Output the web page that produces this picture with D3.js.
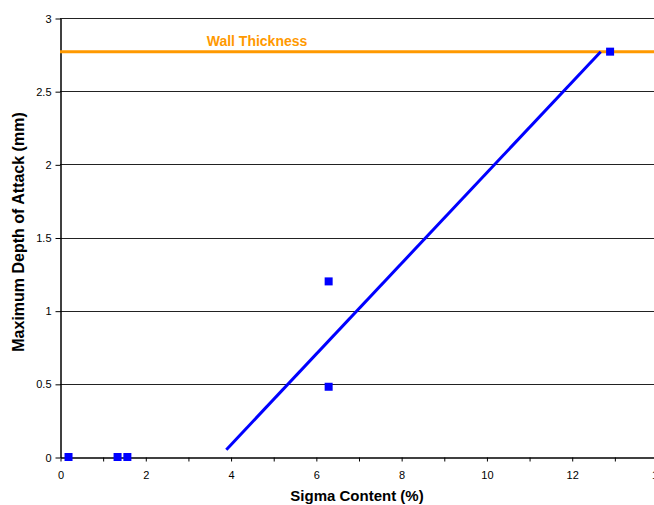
<!DOCTYPE html>
<html>
<head>
<meta charset="utf-8">
<script src="https://cdn.jsdelivr.net/npm/d3@7"></script>
<style>
  body { margin: 0; background: #fff; }
  svg { display: block; font-family: Arial, "Liberation Sans", sans-serif; }
</style>
</head>
<body>
<div id="viz"></div>
<script>
// data
var sigma = [0.2, 1.35, 1.58, 6.3, 6.3, 12.9]
var depth = [0, 0, 0, 1.2, 0.48, 2.77]
var trendX = [3.9, 12.68]
var trendY = [0.05, 2.77]
var wallThickness = 2.77
var xTicks = [0, 1, 2, 3, 4, 5, 6, 7, 8, 9, 10, 11, 12, 13, 14]
var yTicks = [0, 0.5, 1, 1.5, 2, 2.5, 3]

var width = 654, height = 505
var margin = { top: 18, left: 60, bottom: 48 }

var svg = d3.select("#viz")
  .append("svg")
  .attr("width", width)
  .attr("height", height)

// x axis runs past the right edge (14 is cut off)
var x = d3.scaleLinear().domain([0, 14]).range([margin.left, 657])
var y = d3.scaleLinear().domain([0, 3]).range([height - margin.bottom, margin.top])

// gridlines
svg.append("g")
  .selectAll("line")
  .data(yTicks.filter(d => d > 0))
  .enter().append("line")
  .attr("x1", margin.left)
  .attr("x2", width)
  .attr("y1", d => Math.round(y(d)) + 0.5)
  .attr("y2", d => Math.round(y(d)) + 0.5)
  .style("stroke", "#222")

// y axis
var yAxis = svg.append("g")
  .attr("transform", "translate(" + (margin.left + 0.5) + ",0.5)")
  .call(d3.axisLeft(y).tickValues(yTicks).tickSize(5).tickSizeOuter(0).tickFormat(d3.format("")))
yAxis.select(".domain").attr("stroke", "#000").attr("stroke-width", 1.5)
yAxis.selectAll("text").style("font-size", "11px").attr("fill", "#000").attr("dx", "-1px")

// x axis
var xAxis = svg.append("g")
  .attr("transform", "translate(0.5," + (Math.round(y(0)) + 0.5) + ")")
  .call(d3.axisBottom(x).tickValues(xTicks).tickSize(4).tickSizeOuter(0)
    .tickFormat(d => d % 2 == 0 ? d : ""))
xAxis.select(".domain").attr("stroke", "#000").attr("stroke-width", 1.5)
xAxis.selectAll("text").style("font-size", "11px").attr("fill", "#000").attr("dy", "1.3em")

// wall thickness line
svg.append("line")
  .attr("x1", margin.left)
  .attr("x2", width)
  .attr("y1", y(wallThickness))
  .attr("y2", y(wallThickness))
  .style("stroke", "#FF9900")
  .style("stroke-width", 3)

svg.append("text")
  .attr("x", x(3.44))
  .attr("y", y(wallThickness) - 5.5)
  .style("font-size", "14px")
  .style("font-weight", "bold")
  .style("fill", "#FF9900")
  .text("Wall Thickness")

// trend line
svg.append("line")
  .attr("x1", x(trendX[0]))
  .attr("y1", y(trendY[0]))
  .attr("x2", x(trendX[1]))
  .attr("y2", y(trendY[1]))
  .style("stroke", "#0000FF")
  .style("stroke-width", 3)

// points
var m = 8
svg.append("g")
  .selectAll("rect")
  .data(sigma.map((s, i) => ({ x: s, y: depth[i] })))
  .enter().append("rect")
  .attr("x", d => x(d.x) - m / 2)
  .attr("y", d => y(d.y) - m / 2)
  .attr("width", m)
  .attr("height", m)
  .style("fill", "#0000FF")

// axis titles
svg.append("text")
  .attr("x", (margin.left + width) / 2)
  .attr("y", 501)
  .attr("text-anchor", "middle")
  .style("font-size", "15px")
  .style("font-weight", "bold")
  .text("Sigma Content (%)")

svg.append("text")
  .attr("transform", "translate(24,232) rotate(-90)")
  .attr("text-anchor", "middle")
  .style("font-size", "16px")
  .style("font-weight", "bold")
  .text("Maximum Depth of Attack (mm)")
</script>
</body>
</html>
